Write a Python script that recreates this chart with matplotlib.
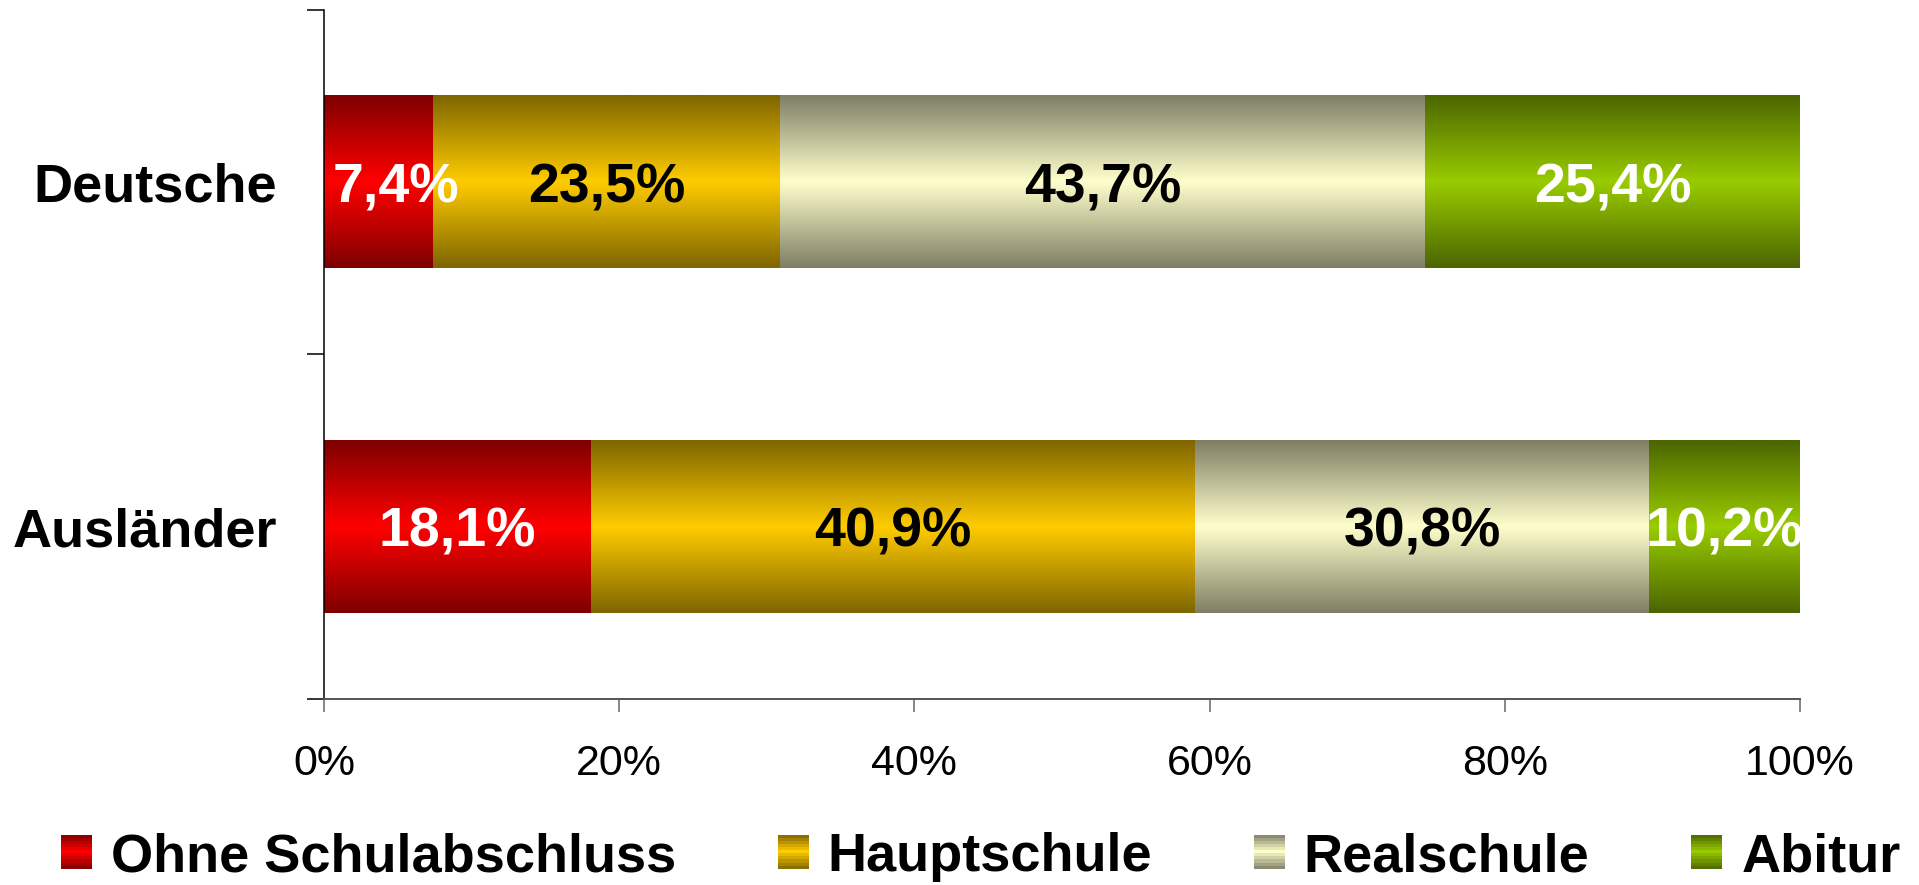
import numpy as np
import matplotlib
matplotlib.use("Agg")
import matplotlib.pyplot as plt
from matplotlib.patches import Rectangle, Patch
from matplotlib.legend_handler import HandlerBase

# data
groups = ["Deutsche", "Ausländer"]
series = ["Ohne Schulabschluss", "Hauptschule", "Realschule", "Abitur"]
deutsche = [7.4, 23.5, 43.7, 25.4]
auslaender = [18.1, 40.9, 30.8, 10.2]
labels_deutsche = ["7,4%", "23,5%", "43,7%", "25,4%"]
labels_auslaender = ["18,1%", "40,9%", "30,8%", "10,2%"]
xticklabels = ["0%", "20%", "40%", "60%", "80%", "100%"]

# center colour of each gradient, edges are half as bright
centers = ["#ff0000", "#ffcc00", "#ffffcc", "#99cc00"]
label_colors = ["white", "black", "black", "white"]

plt.rcParams["font.family"] = ["Liberation Sans", "DejaVu Sans"]


def gradient(center, n=64):
    c = np.array(matplotlib.colors.to_rgb(center))
    t = np.abs(np.linspace(-1, 1, n))
    k = 1 - 0.5 * t
    return (k[:, None] * c[None, :])[:, None, :]


class GradientHandler(HandlerBase):
    def create_artists(self, legend, orig_handle, xdescent, ydescent,
                       width, height, fontsize, trans):
        c = np.array(matplotlib.colors.to_rgb(orig_handle.get_facecolor()))
        n = 11
        arts = []
        for i in range(n):
            t = abs((i + 0.5) / n * 2 - 1)
            col = (1 - 0.5 * t) * c
            r = Rectangle((-xdescent, -ydescent + height * i / n), width,
                          height / n + 0.3, facecolor=col, edgecolor="none",
                          transform=trans)
            arts.append(r)
        return arts


fig = plt.figure(figsize=(19.19, 8.85), dpi=100)
ax = fig.add_axes([0.1688, 0.2102, 0.938 - 0.1688, 0.9887 - 0.2102])

texts = []
for yi, (vals, labs) in enumerate([(deutsche, labels_deutsche),
                                   (auslaender, labels_auslaender)]):
    y = yi + 0.5
    left = 0
    for v, lab, col, tc in zip(vals, labs, centers, label_colors):
        ax.imshow(gradient(col), extent=(left, left + v, y + 0.25, y - 0.25),
                  aspect="auto", interpolation="bilinear", zorder=2)
        t = ax.text(left + v / 2, y, lab, ha="center", va="center_baseline",
                    color=tc, fontsize=40, fontweight="bold", zorder=3)
        texts.append(t)
        left += v

ax.set_xlim(0, 100)
ax.set_ylim(2, 0)

ax.set_xticks(np.arange(0, 101, 20), labels=xticklabels)
ax.set_yticks([0, 1, 2], labels=["", "", ""])
ax.set_yticks([0.5, 1.5], labels=groups, minor=True)
ax.tick_params(axis="x", length=9.4, width=1.1, color="#666666",
               labelsize=31, pad=23, direction="out")
ax.tick_params(axis="y", which="major", length=12.2, width=1.1,
               color="black", direction="out")
ax.tick_params(axis="y", which="minor", length=0, pad=34, labelsize=39)
for lab in ax.get_yticklabels(minor=True):
    lab.set_fontweight("bold")

for s in ["top", "right"]:
    ax.spines[s].set_visible(False)
ax.spines["left"].set_color("black")
ax.spines["left"].set_linewidth(1.1)
ax.spines["bottom"].set_color("#555555")
ax.spines["bottom"].set_linewidth(1.4)

handles = [Patch(facecolor=c) for c in centers]
fig.legend(handles, series, handler_map={Patch: GradientHandler()},
           loc="center", bbox_to_anchor=(0.511, 0.0316), ncol=4,
           frameon=False, prop={"weight": "bold", "size": 39},
           handlelength=0.57, handleheight=0.57, handletextpad=0.35,
           columnspacing=1.88, borderpad=0, borderaxespad=0)

# keep labels that would stick out over the left axis inside the plot
fig.canvas.draw()
renderer = fig.canvas.get_renderer()
ax_bb = ax.get_window_extent(renderer)
for t in texts:
    bb = t.get_window_extent(renderer)
    if bb.x0 < ax_bb.x0:
        dx = (ax_bb.x0 + 9 - bb.x0) / ax_bb.width * 100
        x, y = t.get_position()
        t.set_position((x + dx, y))

fig.savefig("out.png", dpi=100)
